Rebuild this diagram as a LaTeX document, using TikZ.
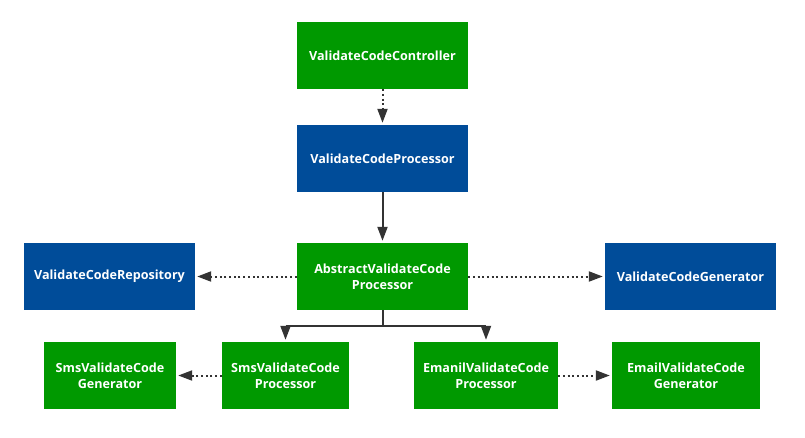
\documentclass[tikz,border=0pt]{standalone}
\usepackage{fontspec}
\setmainfont{Open Sans}
\usetikzlibrary{arrows.meta}
\definecolor{boxgreen}{RGB}{0,153,0}
\definecolor{boxblue}{RGB}{0,76,153}
\definecolor{linegray}{RGB}{51,51,51}
\tikzset{
  gbox/.style={fill=boxgreen, text=white, font=\fontsize{12.6}{16}\selectfont\bfseries, align=center, inner sep=0pt, minimum height=67pt},
  bbox/.style={gbox, fill=boxblue},
  conn/.style={draw=linegray, line width=2pt, -{Triangle[length=14pt,width=10pt]}, shorten >=2pt},
  dotconn/.style={conn, dash pattern=on 2pt off 2.7pt},
}
\begin{document}
\begin{tikzpicture}[x=1pt,y=-1pt]
\useasboundingbox (0,0) rectangle (805,437);
\node[gbox, minimum width=171pt] (ctrl) at (382.5,55.5) {ValidateCodeController};
\node[bbox, minimum width=171pt] (proc) at (382.5,158.5) {ValidateCodeProcessor};
\node[gbox, minimum width=171pt] (abs) at (382.5,276.5) {AbstractValidateCode\\Processor};
\node[bbox, minimum width=171pt] (repo) at (109.5,276.5) {ValidateCodeRepository};
\node[bbox, minimum width=171pt] (gen) at (690.5,276.5) {ValidateCodeGenerator};
\node[gbox, minimum width=132pt] (smsgen) at (110,375.5) {SmsValidateCode\\Generator};
\node[gbox, minimum width=127pt] (smsproc) at (285.5,375.5) {SmsValidateCode\\Processor};
\node[gbox, minimum width=144pt] (emproc) at (486,375.5) {EmanilValidateCode\\Processor};
\node[gbox, minimum width=148pt] (emgen) at (686,375.5) {EmailValidateCode\\Generator};
\coordinate (bar) at (382.5,326);
\draw[dotconn] (ctrl.south) -- (proc.north);
\draw[conn] (proc.south) -- (abs.north);
\draw[dotconn] (abs.west) -- (repo.east);
\draw[dotconn] (abs.east) -- (gen.west);
\draw[draw=linegray, line width=2pt] (abs.south) -- (bar);
\draw[draw=linegray, line width=2pt] (smsproc.north |- bar) -- (emproc.north |- bar);
\draw[conn] (smsproc.north |- bar) -- (smsproc.north);
\draw[conn] (emproc.north |- bar) -- (emproc.north);
\draw[dotconn] (smsproc.west) -- (smsgen.east);
\draw[dotconn] (emproc.east) -- (emgen.west);
\end{tikzpicture}
\end{document}
